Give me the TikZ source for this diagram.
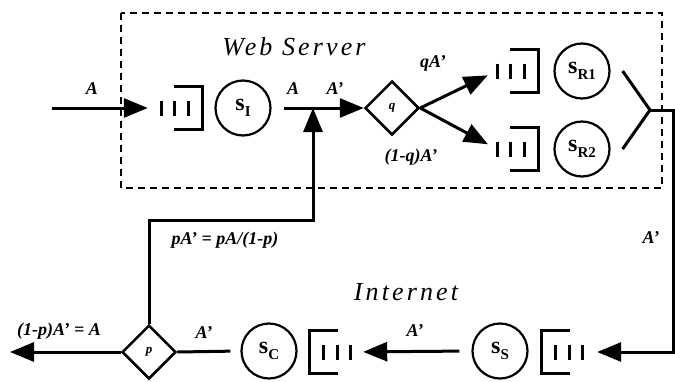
\documentclass[tikz,border=0pt]{standalone}
\usepackage{fontspec}
\setmainfont{Liberation Serif}
\newfontfamily\areafont[LetterSpace=12]{Liberation Serif}
\usetikzlibrary{arrows.meta,shapes.geometric}

\tikzset{
    flow/.style={line width=3pt, -{Triangle[length=24pt,width=19pt]}},
    link/.style={line width=3pt},
    server/.style={circle, draw, line width=2.2pt, minimum size=55pt, inner sep=0pt},
    router/.style={diamond, draw, line width=2.5pt, minimum width=54pt, minimum height=54pt, inner sep=0pt, font=\bfseries\itshape\fontsize{13}{13}\selectfont},
    queue/.style={minimum width=42pt, minimum height=43pt, inner sep=0pt},
    qline/.style={line width=3pt},
    rate/.style={font=\bfseries\itshape\fontsize{18}{18}\selectfont},
    area/.style={font=\areafont\itshape\fontsize{26}{26}\selectfont},
}

\newcommand{\srv}[1]{\fontsize{24}{24}\selectfont\bfseries s\raisebox{-6pt}{\fontsize{15}{15}\selectfont #1}}
% queue: node, open side, direction
\newcommand{\drawqueue}[3]{%
    \draw[qline] ([xshift=#3*13pt,yshift=21.5pt]#1.#2) -- ([xshift=#3*42pt,yshift=21.5pt]#1.#2)
        -- ([xshift=#3*42pt,yshift=-21.5pt]#1.#2) -- ([xshift=#3*13pt,yshift=-21.5pt]#1.#2);
    \foreach \dx in {1,14,28}
        \draw[qline] ([xshift=#3*\dx pt,yshift=7.5pt]#1.#2) -- ([xshift=#3*\dx pt,yshift=-7.5pt]#1.#2);
}

\begin{document}
\begin{tikzpicture}[x=1pt, y=-1pt]
    \useasboundingbox (0,0) rectangle (675,381);

    \draw[line width=1.5pt, dash pattern=on 7pt off 5pt] (121,13) rectangle (662,188);
    \node[area] (websrv) at (294,47) {Web Server};
    \node[area] (inet) at (406,292) {Internet};

    % top row
    \coordinate (in) at (52,108);
    \node[queue] (qI) at (182,108) {};
    \node[server] (sI) at (243,108) {\srv{I}};
    \coordinate (join) at (313,108);
    \node[router] (dq) at (392,108) {q};
    \node[queue] (qR1) at (518,71) {};
    \node[server] (sR1) at (582,71) {\srv{R1}};
    \node[queue] (qR2) at (518,149) {};
    \node[server] (sR2) at (582,149) {\srv{R2}};
    \coordinate (merge) at (650,110);
    \coordinate (edge) at (673,110);

    % bottom row
    \node[queue] (qS) at (562,352) {};
    \node[server] (sS) at (500,351) {\srv{S}};
    \node[queue] (qC) at (330,352) {};
    \node[server] (sC) at (269,351) {\srv{C}};
    \node[router] (dp) at (149,352) {p};
    \coordinate (out) at (10,352);
    \coordinate (turn) at (313,220);

    \drawqueue{qI}{west}{1}
    \drawqueue{qR1}{west}{1}
    \drawqueue{qR2}{west}{1}
    \drawqueue{qS}{east}{-1}
    \drawqueue{qC}{east}{-1}

    \draw[flow, shorten >=13pt] (in) -- (qI.west);
    \draw[flow, shorten <=12pt] (sI.east) -- (dq.west);
    \draw[flow, shorten >=10pt] (dq.east) -- (qR1.west);
    \draw[flow, shorten >=10pt] (dq.east) -- (qR2.west);
    \draw[link] ([xshift=12pt]sR1.east) -- (merge);
    \draw[link] ([xshift=12pt]sR2.east) -- (merge);
    \draw[flow, shorten >=14pt] (merge) -- (edge) |- (qS.east);
    \draw[flow, shorten <=12pt, shorten >=12pt] (sS.west) -- (qC.east);
    \draw[link, shorten <=10pt] (sC.west) -- (dp.east);
    \draw[flow] (dp.west) -- (out);
    \draw[flow] (dp.north) |- (turn) -- (join);

    \node[rate] (lin) at (92,89) {A};
    \node[rate] (lsI) at (293,89) {A};
    \node[rate] (ldq) at (335,89) {A'};
    \node[rate] (lq1) at (433,63) {qA'};
    \node[rate] (lq2) at (411,157) {(1-q)A'};
    \node[rate] (lfb) at (225,240) {pA' = pA/(1-p)};
    \node[rate] (lret) at (651,238) {A'};
    \node[rate] (lsS) at (415,331) {A'};
    \node[rate] (ldp) at (204,333) {A'};
    \node[rate] (lout) at (59,331) {(1-p)A' = A};
\end{tikzpicture}
\end{document}
